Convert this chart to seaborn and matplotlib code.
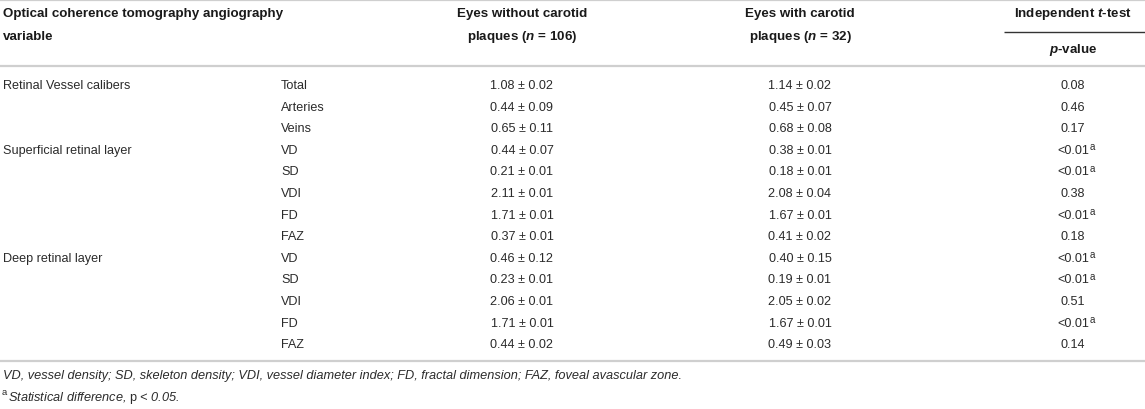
import matplotlib
matplotlib.use("Agg")
import matplotlib.pyplot as plt
import seaborn as sns
import pandas as pd

# ---------------- data ----------------
groups = ["Retinal Vessel calibers", "", "", "Superficial retinal layer", "", "", "", "",
          "Deep retinal layer", "", "", "", ""]
variables = ["Total", "Arteries", "Veins", "VD", "SD", "VDI", "FD", "FAZ",
             "VD", "SD", "VDI", "FD", "FAZ"]
without_plaques = ["1.08 ± 0.02", "0.44 ± 0.09", "0.65 ± 0.11", "0.44 ± 0.07", "0.21 ± 0.01",
                   "2.11 ± 0.01", "1.71 ± 0.01", "0.37 ± 0.01", "0.46 ± 0.12", "0.23 ± 0.01",
                   "2.06 ± 0.01", "1.71 ± 0.01", "0.44 ± 0.02"]
with_plaques = ["1.14 ± 0.02", "0.45 ± 0.07", "0.68 ± 0.08", "0.38 ± 0.01", "0.18 ± 0.01",
                "2.08 ± 0.04", "1.67 ± 0.01", "0.41 ± 0.02", "0.40 ± 0.15", "0.19 ± 0.01",
                "2.05 ± 0.02", "1.67 ± 0.01", "0.49 ± 0.03"]
p_values = ["0.08", "0.46", "0.17", "<0.01", "<0.01", "0.38", "<0.01", "0.18",
            "<0.01", "<0.01", "0.51", "<0.01", "0.14"]
significant = [False, False, False, True, True, False, True, False,
               True, True, False, True, False]

header_var = ["Optical coherence tomography angiography", "variable"]
header_without = ["Eyes without carotid", "plaques ($\\mathit{n}$ = 106)"]
header_with = ["Eyes with carotid", "plaques ($\\mathit{n}$ = 32)"]
header_test = "Independent $\\mathit{t}$-test"
header_p = "$\\mathit{p}$-value"
footnote1 = ("VD, vessel density; SD, skeleton density; VDI, vessel diameter index; "
             "FD, fractal dimension; FAZ, foveal avascular zone.")
footnote2 = "Statistical difference, $\\mathrm{p}$ < 0.05."

df = pd.DataFrame({"group": groups, "variable": variables, "without": without_plaques,
                   "with": with_plaques, "p": p_values, "sig": significant})

# ---------------- style ----------------
sns.set_theme(style="white")
plt.rcParams["font.family"] = ["Liberation Sans", "DejaVu Sans"]
plt.rcParams["mathtext.fontset"] = "custom"
plt.rcParams["mathtext.rm"] = "Liberation Sans"
plt.rcParams["mathtext.it"] = "Liberation Sans:italic:bold"
plt.rcParams["mathtext.bf"] = "Liberation Sans:bold"

W, H = 1145, 410
fig = plt.figure(figsize=(W / 100, H / 100), dpi=100)
ax = fig.add_axes([0, 0, 1, 1])
ax.set_xlim(0, W)
ax.set_ylim(H, 0)
ax.axis("off")
sns.despine(ax=ax, left=True, bottom=True)

FS = 9.1
FSH = 9.65
FSF = 9.15
TXT = "#2b2b2b"
HDR = "#1a1a1a"
RULE = "#cfcfcf"

x_grp, x_var, x_wo, x_w, x_p = 3, 281, 522, 800, 1073
row0, dy = 86, 21.6
h1, h2 = 14.5, 37

# rules
ax.plot([0, W], [0.8, 0.8], color=RULE, lw=1.6, solid_capstyle="butt")
ax.plot([0, W], [67, 67], color=RULE, lw=1.6, solid_capstyle="butt")
ax.plot([0, W], [362, 362], color=RULE, lw=1.6, solid_capstyle="butt")
ax.plot([1004, W], [33, 33], color="#333333", lw=1.0, solid_capstyle="butt")

# headers
for yy, s in zip([h1, h2], header_var):
    ax.text(x_grp, yy, s, fontsize=FSH, fontweight="bold", color=HDR, ha="left", va="center")
for yy, s in zip([h1, h2], header_without):
    ax.text(x_wo, yy, s, fontsize=FSH, fontweight="bold", color=HDR, ha="center", va="center")
for yy, s in zip([h1, h2], header_with):
    ax.text(x_w, yy, s, fontsize=FSH, fontweight="bold", color=HDR, ha="center", va="center")
ax.text(x_p, h1, header_test, fontsize=FSH, fontweight="bold", color=HDR,
        ha="center", va="center")
ax.text(x_p, 50, header_p, fontsize=FSH, fontweight="bold", color=HDR,
        ha="center", va="center")

# body
for i, r in df.iterrows():
    y = row0 + i * dy
    if r["group"]:
        ax.text(x_grp, y, r["group"], fontsize=FS, color=TXT, ha="left", va="center")
    ax.text(x_var, y, r["variable"], fontsize=FS, color=TXT, ha="left", va="center")
    ax.text(x_wo, y, r["without"], fontsize=FS, color=TXT, ha="center", va="center")
    ax.text(x_w, y, r["with"], fontsize=FS, color=TXT, ha="center", va="center")
    t = ax.text(x_p, y, r["p"], fontsize=FS, color=TXT, ha="center", va="center")
    if r["sig"]:
        ax.annotate("a", xy=(1, 1), xycoords=t, xytext=(0.5, 2), textcoords="offset points",
                    fontsize=7, color=TXT, ha="left", va="top")

# footnotes
ax.text(x_grp, 376, footnote1, fontsize=FSF, color=TXT, style="italic",
        ha="left", va="center")
ax.text(x_grp - 1, 393, "a", fontsize=6.8, color=TXT, ha="left", va="center")
ax.text(x_grp + 5, 398, footnote2, fontsize=FSF, color=TXT, style="italic",
        ha="left", va="center")

fig.savefig("out.png", dpi=100, facecolor="white")
